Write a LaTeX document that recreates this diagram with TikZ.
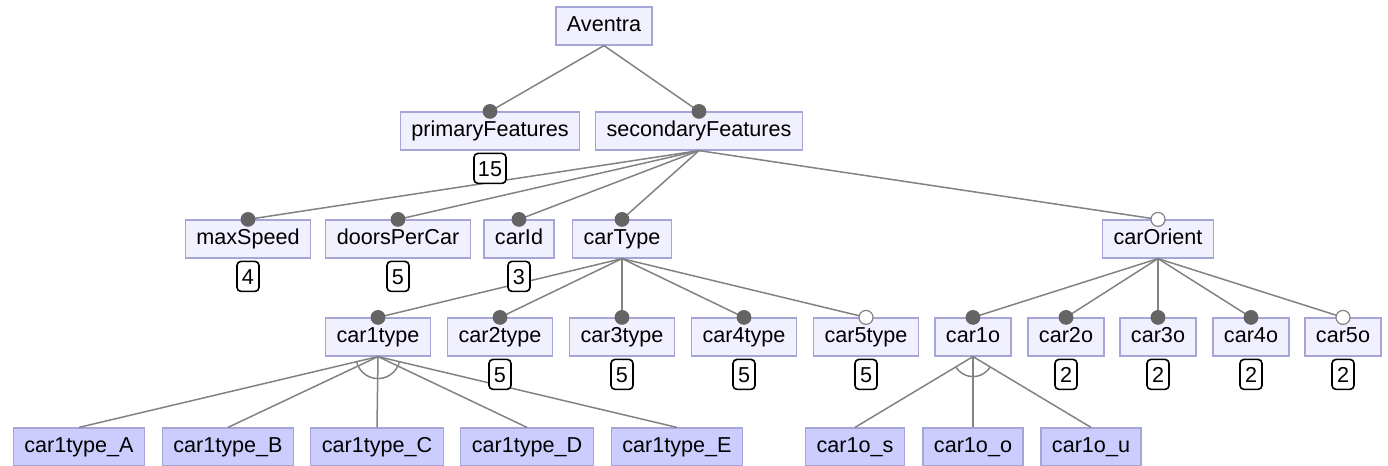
\documentclass[tikz,border=0pt]{standalone}
\usepackage{fontspec}
\setmainfont{Liberation Sans}
\usetikzlibrary{positioning}
\definecolor{featfill}{RGB}{240,240,255}
\definecolor{featline}{RGB}{165,165,215}
\definecolor{leaffill}{RGB}{204,204,255}
\definecolor{edgegray}{RGB}{130,130,130}
\definecolor{dotgray}{RGB}{100,100,100}
\begin{document}
\begin{tikzpicture}[x=0.5pt,y=-0.5pt,
  feat/.style={draw=featline,fill=featfill,line width=0.6pt,minimum height=19pt,
    inner xsep=5.5pt,inner ysep=0pt,text height=8pt,text depth=2.4pt,
    font=\fontsize{10.8}{12}\selectfont},
  leaf/.style={feat,fill=leaffill},
  card/.style={draw=black,fill=white,rounded corners=2pt,line width=0.8pt,
    minimum height=15pt,minimum width=11pt,inner xsep=2pt,inner ysep=0pt,
    text height=8pt,text depth=0pt,font=\fontsize{10.8}{12}\selectfont},
  edge/.style={draw=edgegray,line width=0.75pt},
  mand/.style={fill=dotgray},
  opt/.style={fill=white,draw=edgegray,line width=0.6pt}]
\useasboundingbox (0,0) rectangle (1388,466);
% features
\node[feat] (root) at (604,26) {Aventra};
\node[feat] (primaryFeatures) at (490,131) {primaryFeatures};
\node[feat] (secondaryFeatures) at (699,131) {secondaryFeatures};
\foreach \n/\x in {maxSpeed/248,doorsPerCar/398,carId/519,carType/622,carOrient/1158}
  \node[feat] (\n) at (\x,239) {\n};
\foreach \n/\x in {car1type/378,car2type/500,car3type/622,car4type/744,car5type/866,
    car1o/973,car2o/1066,car3o/1158,car4o/1251,car5o/1343}
  \node[feat] (\n) at (\x,337) {\n};
\foreach \s/\x in {A/79,B/228,C/377,D/527,E/677}
  \node[leaf] (car1type\s) at (\x,447) {car1type\_\s};
\foreach \s/\x in {s/855,o/973,u/1091}
  \node[leaf] (car1o\s) at (\x,447) {car1o\_\s};
% edges
\foreach \c in {primaryFeatures,secondaryFeatures}
  \draw[edge] (root.south) -- (\c.north);
\foreach \c in {maxSpeed,doorsPerCar,carId,carType,carOrient}
  \draw[edge] (secondaryFeatures.south) -- (\c.north);
\foreach \i in {1,...,5} {
  \draw[edge] (carType.south) -- (car\i type.north);
  \draw[edge] (carOrient.south) -- (car\i o.north);
}
\foreach \s in {A,B,C,D,E}
  \draw[edge] (car1type.south) -- (car1type\s.north);
\foreach \s in {s,o,u}
  \draw[edge] (car1o.south) -- (car1o\s.north);
% alternative groups
\begin{scope}
\clip (car1type.south) -- (car1typeA.north) -- (car1typeE.north) -- cycle;
\draw[edge] (car1type.south) circle (11pt);
\end{scope}
\begin{scope}
\clip (car1o.south) -- (car1os.north) -- (car1ou.north) -- cycle;
\draw[edge] (car1o.south) circle (10pt);
\end{scope}
% mandatory / optional
\foreach \c in {primaryFeatures,secondaryFeatures,maxSpeed,doorsPerCar,carId,carType,
    car1type,car2type,car3type,car4type,car1o,car2o,car3o,car4o}
  \fill[mand] (\c.north) circle (3.7pt);
\foreach \c in {carOrient,car5type,car5o}
  \filldraw[opt] (\c.north) circle (3.5pt);
% cardinalities
\foreach \c/\v in {primaryFeatures/15,maxSpeed/4,doorsPerCar/5,carId/3,car2type/5,
    car3type/5,car4type/5,car5type/5,car2o/2,car3o/2,car4o/2,car5o/2}
  \node[card,below=1pt of \c] {\v};
\end{tikzpicture}
\end{document}
